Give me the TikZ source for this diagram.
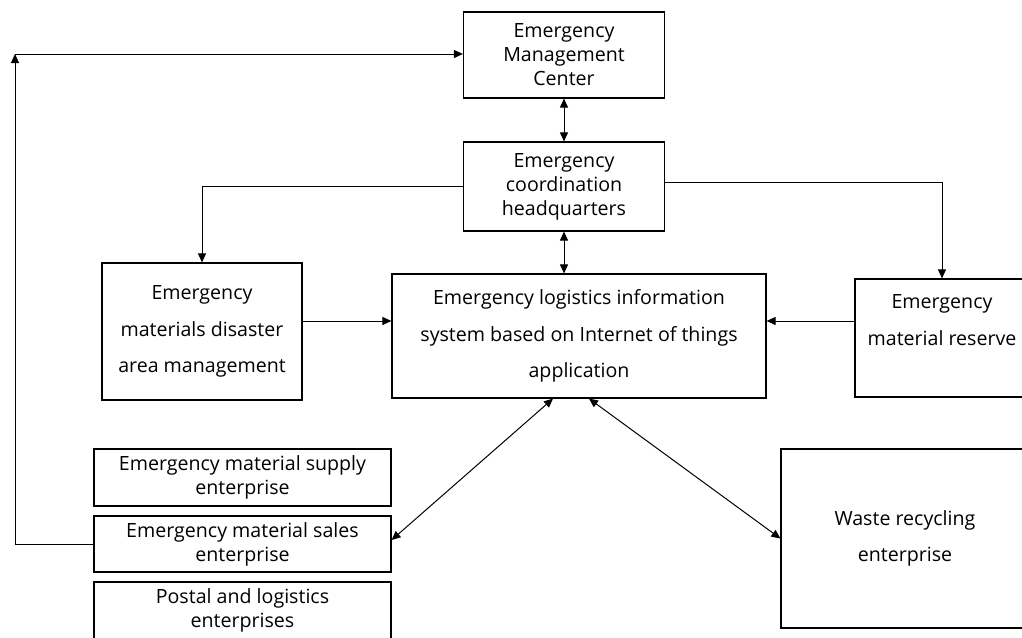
\documentclass[tikz,border=0pt]{standalone}
\usepackage{fontspec}
\setmainfont{Open Sans}
\usetikzlibrary{arrows.meta}
\begin{document}
\begin{tikzpicture}[x=1pt,y=-1pt,
    box/.style={draw, line width=1.2pt, align=center, inner sep=0pt, font=\fontsize{19.6}{24}\selectfont},
    widebox/.style={box, font=\fontsize{19.6}{36.5}\selectfont},
    link/.style={line width=1pt, -{Triangle[length=9pt,width=8pt]}},
    dlink/.style={line width=1pt, {Triangle[length=9pt,width=8pt]}-{Triangle[length=9pt,width=8pt]}}]
    \clip (0,0) rectangle (1022,637);
    \node[box, minimum width=201pt, minimum height=86pt] (mgmt) at (564,55) {Emergency\\Management\\Center};
    \node[box, minimum width=201pt, minimum height=89pt] (coord) at (564,186.5) {Emergency\\coordination\\headquarters};
    \node[widebox, minimum width=374pt, minimum height=124pt] (iot) at (579,336) {Emergency logistics information\\system based on Internet of things\\application};
    \node[widebox, minimum width=200pt, minimum height=137pt] (disaster) at (202,331.5) {Emergency\\materials disaster\\area management};
    \node[widebox, minimum width=174pt, minimum height=118pt] (reserve) at (942,338) {Emergency\\material reserve\\\mbox{}};
    \node[widebox, minimum width=248pt, minimum height=179pt] (waste) at (905,538.5) {Waste recycling\\enterprise};
    % enterprises
    \node[box, minimum width=297pt, minimum height=57pt] (supply) at (242.5,477.5) {Emergency material supply\\enterprise};
    \node[box, minimum width=297pt, minimum height=56pt] (sales) at (242.5,544) {Emergency material sales\\enterprise};
    \node[box, minimum width=297pt, minimum height=57pt] (postal) at (242.5,610.5) {Postal and logistics\\enterprises};
    \coordinate (corner) at (15,54);
    \coordinate (midrow) at (0,321);
    \draw[dlink] (mgmt.south) -- (coord.north);
    \draw[dlink] (coord.south) -- (coord.south |- iot.north);
    \draw[link] (coord.west) -| (disaster.north);
    \draw[link] ([yshift=4pt]coord.east) -| (reserve.north);
    \draw[link] (disaster.east |- midrow) -- (iot.west |- midrow);
    \draw[link] (reserve.west |- midrow) -- (iot.east |- midrow);
    \draw[dlink] ([xshift=-26pt]iot.south) -- ([yshift=4pt]sales.east);
    \draw[dlink] ([xshift=10pt]iot.south) -- (waste.west);
    \draw[link] (sales.west) -| (corner);
    \draw[link] (corner) -- (corner -| mgmt.west);
\end{tikzpicture}
\end{document}
